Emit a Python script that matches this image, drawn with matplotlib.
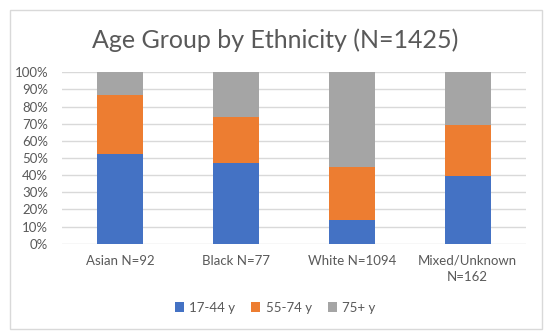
import numpy as np
import matplotlib.pyplot as plt
from matplotlib.patches import Rectangle

# data (percent of each ethnic group)
groups = ["Asian N=92", "Black N=77", "White N=1094", "Mixed/Unknown\nN=162"]
age_labels = ["17-44 y", "55-74 y", "75+ y"]
young = [52.2, 46.8, 13.8, 39.5]
middle = [34.8, 27.2, 31.2, 29.6]
old = [13.0, 26.0, 55.0, 30.9]
colors = ["#4472C4", "#ED7D31", "#A5A5A5"]

plt.rcParams['font.family'] = ['Lato', 'DejaVu Sans']
txt = "#595959"

fig = plt.figure(figsize=(5.5, 3.35), dpi=100)
ax = fig.add_axes([62/550, 1-243.7/335, (525.7-62)/550, (243.7-72.3)/335])

x = np.arange(len(groups))
bottom = np.zeros(len(groups))
for vals, lab, c in zip([young, middle, old], age_labels, colors):
    ax.bar(x, vals, 0.4, bottom=bottom, color=c, label=lab, zorder=3)
    bottom += np.array(vals)

ax.set_xlim(-0.5, 3.5)
ax.set_ylim(0, 100)
ax.set_yticks(np.arange(0, 101, 10))
ax.set_yticklabels([f"{v}%" for v in range(0, 101, 10)])
ax.set_xticks(x)
ax.set_xticklabels(groups, multialignment='center', linespacing=1.4)
ax.yaxis.grid(True, color="#d9d9d9", linewidth=1, zorder=0)
for s in ax.spines.values():
    s.set_visible(False)
ax.tick_params(axis='both', length=0, colors=txt, labelsize=9.5)
ax.tick_params(axis='x', pad=8)
ax.tick_params(axis='y', pad=10)

fig.text(0.5, 1-40/335, "Age Group by Ethnicity (N=1425)", ha='center', va='center',
         fontsize=18, color=txt)

fig.legend(loc='center', bbox_to_anchor=(0.5, 1-307.7/335), ncol=3, frameon=False,
           fontsize=9.5, labelcolor=txt, handlelength=0.7, handleheight=0.7,
           handletextpad=0.4, columnspacing=1.2)

fig.patches.append(Rectangle((10/550, 1-329/335), 532/550, 319.5/335,
                             transform=fig.transFigure, fill=False,
                             edgecolor="#d9d9d9", linewidth=1))

fig.savefig("out.png", dpi=100, facecolor="white")
